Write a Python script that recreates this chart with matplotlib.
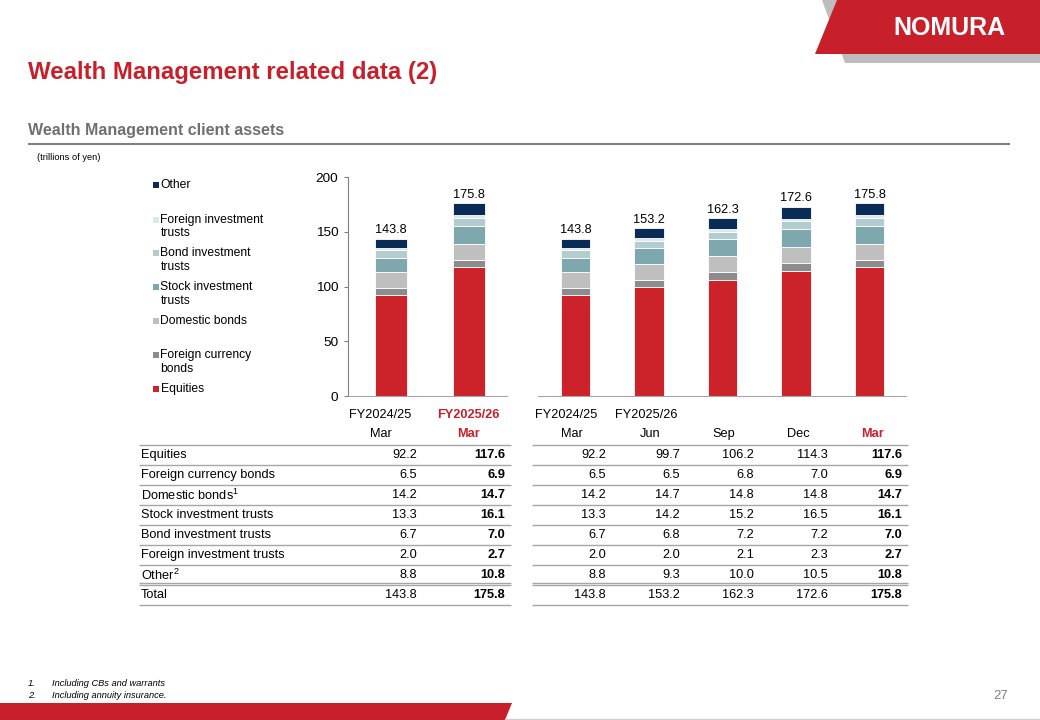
import numpy as np
import matplotlib
matplotlib.use("Agg")
import matplotlib.pyplot as plt
from matplotlib.patches import Polygon, Rectangle

plt.rcParams['font.family'] = ['Liberation Sans', 'DejaVu Sans']
plt.rcParams['mathtext.fontset'] = 'custom'
plt.rcParams['mathtext.rm'] = 'Liberation Sans'
plt.rcParams['mathtext.default'] = 'regular'

# ---- data (trillions of yen) ----
periods = ["Mar", "Jun", "Sep", "Dec", "Mar"]
years = ["FY2024/25", "FY2025/26", "", "", ""]
equities = [92.2, 99.7, 106.2, 114.3, 117.6]
fx_bonds = [6.5, 6.5, 6.8, 7.0, 6.9]
dom_bonds = [14.2, 14.7, 14.8, 14.8, 14.7]
stock_it = [13.3, 14.2, 15.2, 16.5, 16.1]
bond_it = [6.7, 6.8, 7.2, 7.2, 7.0]
foreign_it = [2.0, 2.0, 2.1, 2.3, 2.7]
other = [8.8, 9.3, 10.0, 10.5, 10.8]
totals = [143.8, 153.2, 162.3, 172.6, 175.8]
left_idx = [0, 4]  # year-end comparison: FY2024/25 Mar vs FY2025/26 Mar

series = [equities, fx_bonds, dom_bonds, stock_it, bond_it, foreign_it, other]
legend_labels = ["Equities", "Foreign currency\nbonds", "Domestic bonds",
                 "Stock investment\ntrusts", "Bond investment\ntrusts",
                 "Foreign investment\ntrusts", "Other"]
table_labels = ["Equities", "Foreign currency bonds", "Domestic bonds$^1$",
                "Stock investment trusts", "Bond investment trusts",
                "Foreign investment trusts", "Other$^2$"]
colors = ['#CC2229', '#8C8C8C', '#BFBFBF', '#7EA8AD', '#B3CCCF', '#DCE8E9', '#0B2B57']

RED = '#C8202A'
W, H = 1040, 720
FS = 9.2

fig = plt.figure(figsize=(W / 100, H / 100), dpi=100)

# overlay axes in pixel coordinates for page furniture and the table
ov = fig.add_axes([0, 0, 1, 1], zorder=0)
ov.set_xlim(0, W)
ov.set_ylim(H, 0)
ov.axis('off')

# header logo shapes
ov.add_patch(Polygon([(822, 0), (W, 0), (W, 63), (845, 63)], closed=True,
                     color='#BDBDBD', lw=0))
ov.add_patch(Polygon([(837, 0), (W, 0), (W, 54), (815, 54)], closed=True,
                     color=RED, lw=0))
ov.text(949, 28, "NOMURA", color='white', fontsize=18, fontweight='bold',
        ha='center', va='center')

# titles
ov.text(28, 72, "Wealth Management related data (2)", color=RED, fontsize=17.3,
        fontweight='bold', ha='left', va='center')
ov.text(28, 130, "Wealth Management client assets", color='#707070', fontsize=11.5,
        fontweight='bold', ha='left', va='center')
ov.plot([28, 1010], [144, 144], color='#808080', lw=1.5, solid_capstyle='butt')
ov.text(37, 158, "(trillions of yen)", fontsize=6.7, ha='left', va='center')

# legend
leg_y = {"Other": 185, "Foreign investment\ntrusts": 220, "Bond investment\ntrusts": 253,
         "Stock investment\ntrusts": 287, "Domestic bonds": 321,
         "Foreign currency\nbonds": 355, "Equities": 389}
for lab, col in zip(legend_labels, colors):
    y0 = leg_y[lab]
    ov.add_patch(Rectangle((153, y0 - 3), 6, 6, color=col, lw=0))
    for k, line in enumerate(lab.split("\n")):
        ov.text(160.5, y0 + 13.5 * k, line, fontsize=8.7, ha='left', va='center')


def stacked(ax, idx):
    x = np.arange(len(idx))
    bottom = np.zeros(len(idx))
    for vals, col in zip(series, colors):
        v = np.array([vals[i] for i in idx])
        ax.bar(x, v, 0.4, bottom=bottom, color=col, edgecolor='white', linewidth=0.6)
        bottom += v
    for xi, i in zip(x, idx):
        ax.annotate(f"{totals[i]:.1f}", (xi, totals[i]), xytext=(0, 4),
                    textcoords='offset points', ha='center', va='baseline', fontsize=9.2)
    ax.set_ylim(0, 200)
    ax.set_xticks([])
    ax.set_facecolor('none')
    for s in ['top', 'right']:
        ax.spines[s].set_visible(False)
    ax.spines['bottom'].set_color('#A6A6A6')


def px_axes(x0, x1, ytop, ybot):
    return fig.add_axes([x0 / W, 1 - ybot / H, (x1 - x0) / W, (ybot - ytop) / H], zorder=1)


axl = px_axes(348, 507, 177, 396)
stacked(axl, left_idx)
axl.set_xlim(-0.551, 1.487)
axl.set_yticks([0, 50, 100, 150, 200])
axl.spines['left'].set_color('#808080')
axl.tick_params(axis='y', colors='#808080', labelcolor='black', labelsize=9.7,
                length=3, pad=4)

axr = px_axes(538, 906, 177, 396)
stacked(axr, list(range(len(periods))))
axr.set_xlim(-0.510, 4.497)
axr.set_yticks([])
axr.spines['left'].set_visible(False)

# year labels under charts
ov.text(380, 415, years[0], fontsize=FS, ha='center', va='center')
ov.text(468, 415, years[1], fontsize=FS, ha='center', va='center', color=RED,
        fontweight='bold')
ov.text(566, 415, years[0], fontsize=FS, ha='center', va='center')
ov.text(646, 415, years[1], fontsize=FS, ha='center', va='center')

# ---- table ----
left_hdr = [381, 468]
left_val = [417, 505]
right_hdr = [572, 650, 724, 798, 872]
right_val = [606, 680, 754, 828, 902]
line_col = '#A6A6A6'

for k, i in enumerate(left_idx):
    last = k == len(left_idx) - 1
    ov.text(left_hdr[k], 434, periods[i], fontsize=FS, ha='center', va='center',
            color=RED if last else 'black', fontweight='bold' if last else 'normal')
for k in range(len(periods)):
    last = k == len(periods) - 1
    ov.text(right_hdr[k], 434, periods[k], fontsize=FS, ha='center', va='center',
            color=RED if last else 'black', fontweight='bold' if last else 'normal')

row_y = [455 + 20 * r for r in range(len(table_labels))] + [595]
for r, y in enumerate(row_y):
    if r < len(table_labels):
        vals = series[r]
        lab = table_labels[r]
    else:
        vals = totals
        lab = "Total"
    ov.text(141, y, lab, fontsize=FS, ha='left', va='center')
    for k, i in enumerate(left_idx):
        last = k == len(left_idx) - 1
        ov.text(left_val[k], y, f"{vals[i]:.1f}", fontsize=FS, ha='right', va='center',
                fontweight='bold' if last else 'normal')
    for k in range(len(periods)):
        last = k == len(periods) - 1
        ov.text(right_val[k], y, f"{vals[k]:.1f}", fontsize=FS, ha='right', va='center',
                fontweight='bold' if last else 'normal')

line_ys = [444.5 + 20 * r for r in range(7)] + [582.8, 585.3, 604.5]
for y in line_ys:
    ov.plot([139, 511], [y, y], color=line_col, lw=1.0, solid_capstyle='butt')
    ov.plot([532, 908], [y, y], color=line_col, lw=1.0, solid_capstyle='butt')

# footnotes
ov.text(28, 683, "1.", fontsize=6.7, style='italic', ha='left', va='center')
ov.text(52, 683, "Including CBs and warrants", fontsize=6.7, style='italic',
        ha='left', va='center')
ov.text(28, 695, "2.", fontsize=6.7, style='italic', ha='left', va='center')
ov.text(52, 695, "Including annuity insurance.", fontsize=6.7, style='italic',
        ha='left', va='center')
ov.text(1001, 696, "27", fontsize=9.5, color='#808080', ha='center', va='center')

# footer band
ov.add_patch(Polygon([(0, 703), (512, 703), (505, 720), (0, 720)], closed=True,
                     color=RED, lw=0))
ov.plot([505, W], [719, 719], color='#D0D0D0', lw=1.0)

fig.savefig("out.png", dpi=100)
